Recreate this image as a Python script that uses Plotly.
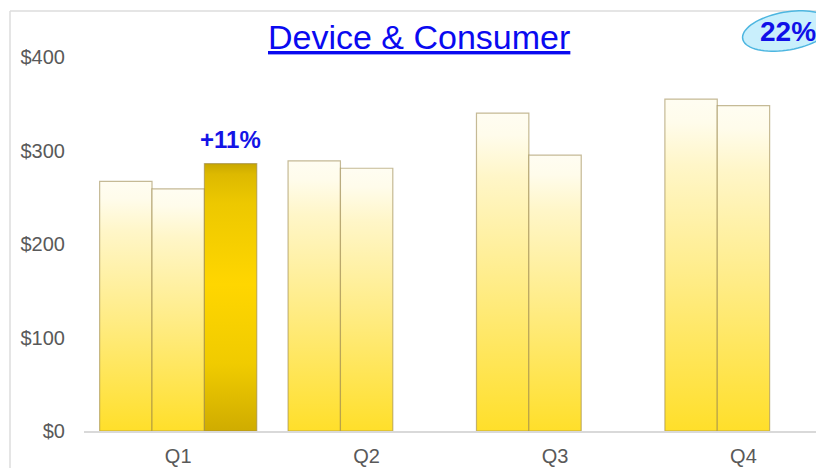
import math
import plotly.graph_objects as go

# ---- data ----
quarters = ["Q1", "Q2", "Q3", "Q4"]
series_names = ["FY08", "FY09", "FY10"]
fy08 = [267, 289, 340, 355]
fy09 = [259, 281, 295, 348]
fy10 = [286, None, None, None]
y_ticks = [0, 100, 200, 300, 400]
y_tick_labels = ["$0", "$100", "$200", "$300", "$400"]
growth_label = "+11%"
share_label = "22%"
title_text = "Device & Consumer"

# ---- layout geometry ----
# the page body has an 8px margin, so the figure sits at (8, 8) in the window
OFF = 8
PAGE_W, PAGE_H = 824, 468
W, H = PAGE_W - OFF, PAGE_H - OFF
PLOT_LEFT, PLOT_TOP, PLOT_BOTTOM = 84, 57, 431   # page pixels
L, R = PLOT_LEFT - OFF, 0
T, B = PLOT_TOP - OFF, (OFF + H) - PLOT_BOTTOM
PW, PH = W - L - R, H - T - B

def px_to_paper(px, py):
    """page pixel -> paper coords"""
    return (px - PLOT_LEFT) / PW, (PLOT_BOTTOM - py) / PH

BAR_W = 0.278
GROUP_LEFT = -0.417

light_scale = [[0.0, "#FFDF2A"], [0.45, "#FFEC85"], [0.8, "#FFF6C8"], [0.93, "#FFFCEB"], [1.0, "#FFFDF2"]]
gold_scale = [[0.0, "#CFAC00"], [0.25, "#F0CB00"], [0.55, "#FFD600"], [0.85, "#EDC800"], [0.96, "#DDB900"], [1.0, "#C9A800"]]

fig = go.Figure()
all_series = [fy08, fy09, fy10]
for si, vals in enumerate(all_series):
    for qi, v in enumerate(vals):
        if v is None:
            continue
        x0 = qi + GROUP_LEFT + BAR_W * si
        x1 = x0 + BAR_W
        scale = gold_scale if si == 2 else light_scale
        fig.add_trace(go.Scatter(
            x=[x0, x0, x1, x1, x0],
            y=[0, v, v, 0, 0],
            mode="lines",
            fill="toself",
            fillgradient=dict(type="vertical", colorscale=scale, start=0, stop=v),
            line=dict(color="rgba(150,130,70,0.55)", width=1.2),
            name=series_names[si],
            showlegend=False,
            hoverinfo="text",
            text=f"{series_names[si]} {quarters[qi]}: ${v}",
        ))

# growth label above highlighted bar
fig.add_annotation(
    x=0 + GROUP_LEFT + BAR_W * 2.5, y=fy10[0], xref="x", yref="y",
    text=f"<b>{growth_label}</b>", showarrow=False, yanchor="bottom", yshift=9,
    font=dict(family="Liberation Sans, Arial", size=24, color="#1414E6"),
)

# title
tx, ty = px_to_paper(419, 37)
fig.add_annotation(
    x=tx, y=ty, xref="paper", yref="paper", xanchor="center", yanchor="middle",
    text=f"<u>{title_text}</u>", showarrow=False,
    font=dict(family="Liberation Sans, Arial", size=34, color="#0A0AF0"),
)

# frame lines (top & left)
fx0, fy0 = px_to_paper(10, 11)
fx1, fy1 = px_to_paper(PAGE_W + 5, PAGE_H + 5)
fig.add_shape(type="line", xref="paper", yref="paper", x0=fx0, y0=fy0, x1=fx1, y1=fy0,
              line=dict(color="#DCDCDC", width=1.5), layer="below")
fig.add_shape(type="line", xref="paper", yref="paper", x0=fx0, y0=fy0, x1=fx0, y1=fy1,
              line=dict(color="#DCDCDC", width=1.5), layer="below")

# tilted ellipse badge
cx, cy, a, b, th = 787, 31, 45, 19, math.radians(-10)
pts = []
for k in range(0, 73):
    t = 2 * math.pi * k / 72
    ex = cx + a * math.cos(t) * math.cos(th) - b * math.sin(t) * math.sin(th)
    ey = cy + a * math.cos(t) * math.sin(th) + b * math.sin(t) * math.cos(th)
    pts.append(px_to_paper(ex, ey))
path = "M " + " L ".join(f"{p[0]:.5f},{p[1]:.5f}" for p in pts) + " Z"
fig.add_shape(type="path", xref="paper", yref="paper", path=path,
              fillcolor="#C9EFFC", line=dict(color="#4DB6E0", width=1.5))
bx, by = px_to_paper(788, 32)
fig.add_annotation(
    x=bx, y=by, xref="paper", yref="paper", xanchor="center", yanchor="middle",
    text=f"<b>{share_label}</b>", showarrow=False,
    font=dict(family="Liberation Sans, Arial", size=28, color="#1010E8"),
)

fig.update_layout(
    width=W, height=H,
    margin=dict(l=L, r=R, t=T, b=B, pad=0),
    paper_bgcolor="white", plot_bgcolor="white",
    showlegend=False,
    font=dict(family="Liberation Sans, Arial", color="#595959"),
    xaxis=dict(
        range=[-0.5, 3.4275], tickmode="array", tickvals=list(range(len(quarters))),
        ticktext=quarters, showgrid=False, zeroline=False,
        showline=True, linecolor="#D9D9D9", linewidth=1.5, ticks="",
        tickfont=dict(size=20, color="#595959"), ticklabelstandoff=6,
        fixedrange=True,
    ),
    yaxis=dict(
        range=[0, 400], tickmode="array", tickvals=y_ticks, ticktext=y_tick_labels,
        showgrid=False, zeroline=False, showline=False, ticks="",
        tickfont=dict(size=20, color="#595959"), ticklabelstandoff=18,
        fixedrange=True,
    ),
)

fig.write_html("out.html")
